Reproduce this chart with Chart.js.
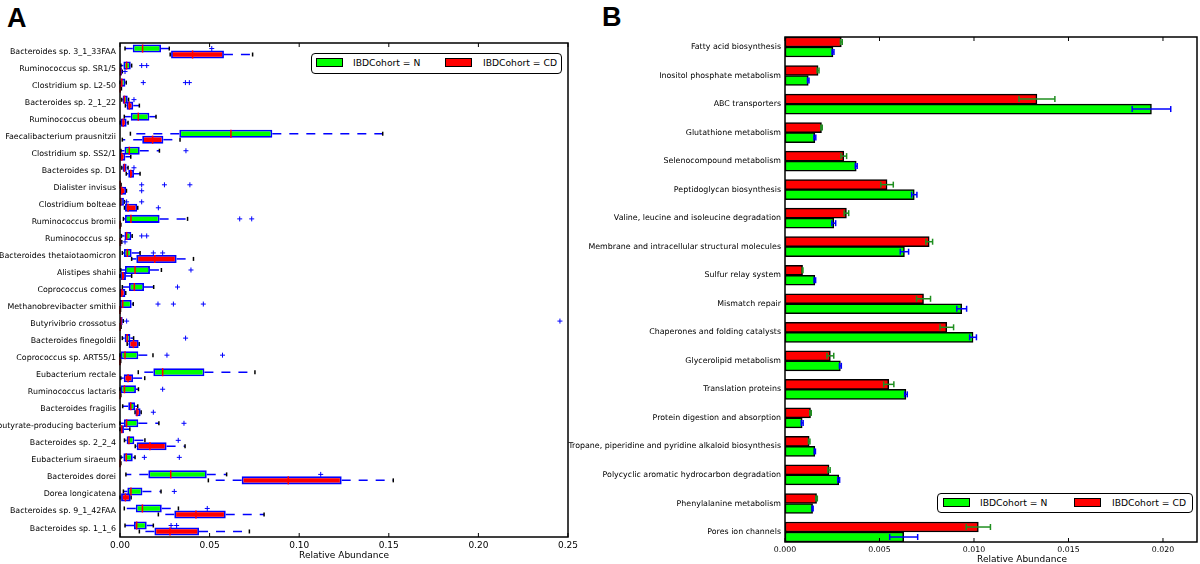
<!DOCTYPE html>
<html lang="en">

<head>
    <meta charset="UTF-8">
    <title>Relative abundance by IBD cohort</title>
    <script src="https://cdn.jsdelivr.net/npm/chart.js"></script>
    <style>
        body {
            margin: 0;
            width: 1200px;
            height: 564px;
            overflow: hidden;
            position: relative;
            background: #fff;
            font-family: "DejaVu Sans", sans-serif;
        }

        canvas {
            position: absolute;
            top: 0;
        }

        #chartA { left: 0; }
        #chartB { left: 560px; }

        .letter {
            position: absolute;
            font-family: "Liberation Sans", Arial, sans-serif;
            font-weight: bold;
            font-size: 27px;
            line-height: 27px;
        }

        .legend {
            position: absolute;
            box-sizing: border-box;
            border: 1.5px solid #000;
            border-radius: 4px;
            background: #fff;
        }

        .legend .sw {
            position: absolute;
            top: 4px;
            width: 27px;
            height: 9px;
            box-sizing: border-box;
            border: 1px solid #000;
        }

        .legend .lt {
            position: absolute;
            top: 3px;
            font-size: 9.2px;
            line-height: 12px;
            white-space: nowrap;
        }

        #titleB {
            position: absolute;
            left: 1022px;
            top: 554px;
            transform: translateX(-50%);
            font-size: 9px;
            line-height: 11px;
            white-space: nowrap;
        }
    </style>
</head>

<body>
    <div class="letter" style="left:7px; top:5px;">A</div>
    <div class="letter" style="left:602px; top:4px;">B</div>

    <canvas id="chartA" width="590" height="564"></canvas>
    <canvas id="chartB" width="640" height="564"></canvas>

    <div class="legend" style="left:311px; top:53px; width:251px; height:21px;">
        <span class="sw" style="left:4px; background:#00ff00;"></span>
        <span class="lt" style="left:41px;">IBDCohort = N</span>
        <span class="sw" style="left:133px; background:#ff0000;"></span>
        <span class="lt" style="left:171px;">IBDCohort = CD</span>
    </div>
    <div class="legend" style="left:937px; top:493px; width:256px; height:20px;">
        <span class="sw" style="left:5px; background:#00ff00;"></span>
        <span class="lt" style="left:42px;">IBDCohort = N</span>
        <span class="sw" style="left:136px; background:#ff0000;"></span>
        <span class="lt" style="left:174px;">IBDCohort = CD</span>
    </div>
    <div id="titleB">Relative Abundance</div>

    <script>
        // ---- Panel A: species box plots ----
        const species = [
            'Bacteroides sp. 3_1_33FAA', 'Ruminococcus sp. SR1/5', 'Clostridium sp. L2-50',
            'Bacteroides sp. 2_1_22', 'Ruminococcus obeum', 'Faecalibacterium prausnitzii',
            'Clostridium sp. SS2/1', 'Bacteroides sp. D1', 'Dialister invisus', 'Clostridium bolteae',
            'Ruminococcus bromii', 'Ruminococcus sp.', 'Bacteroides thetaiotaomicron', 'Alistipes shahii',
            'Coprococcus comes', 'Methanobrevibacter smithii', 'Butyrivibrio crossotus',
            'Bacteroides finegoldii', 'Coprococcus sp. ART55/1', 'Eubacterium rectale',
            'Ruminococcus lactaris', 'Bacteroides fragilis', 'butyrate-producing bacterium',
            'Bacteroides sp. 2_2_4', 'Eubacterium siraeum', 'Bacteroides dorei', 'Dorea longicatena',
            'Bacteroides sp. 9_1_42FAA', 'Bacteroides sp. 1_1_6'
        ];

        // IBDCohort = N
        const nLow = [0.0028, 0.0005, 0, 0.001, 0.0024, 0.0058, 0.0005, 0.001, 0, 0, 0.0019, 0.0008, 0.0013, 0.0004, 0.0013, 0, 0, 0.0013, 0, 0.0102, 0, 0.0015, 0, 0.0025, 0.0005, 0.0033, 0.0019, 0.0024, 0.0028];
        const nQ1 = [0.0071, 0.0019, 0.0004, 0.0015, 0.006, 0.0331, 0.0025, 0.0015, 0, 0, 0.0028, 0.0025, 0.0022, 0.0028, 0.005, 0, 0, 0.0026, 0.0004, 0.0186, 0.0004, 0.0046, 0.0022, 0.0037, 0.0019, 0.0158, 0.0041, 0.0088, 0.0078];
        const nMed = [0.0126, 0.0037, 0.001, 0.0025, 0.0102, 0.0619, 0.0052, 0.0025, 0.0001, 0.0004, 0.0061, 0.0037, 0.0041, 0.0084, 0.008, 0.0015, 0.0005, 0.004, 0.0028, 0.0238, 0.0025, 0.006, 0.0037, 0.005, 0.0035, 0.0283, 0.0061, 0.0125, 0.0093];
        const nQ3 = [0.0229, 0.006, 0.003, 0.0043, 0.0164, 0.085, 0.011, 0.0037, 0.0004, 0.0022, 0.0221, 0.0063, 0.0065, 0.0167, 0.0134, 0.0065, 0.0015, 0.0058, 0.0102, 0.0471, 0.0089, 0.0084, 0.0102, 0.008, 0.0071, 0.0484, 0.0125, 0.0233, 0.0149];
        const nHigh = [0.0275, 0.0065, 0.0035, 0.0048, 0.0201, 0.1466, 0.022, 0.0045, 0.0006, 0.0025, 0.0377, 0.0068, 0.0112, 0.0231, 0.0188, 0.0074, 0.0018, 0.0076, 0.0184, 0.0753, 0.0103, 0.0099, 0.0217, 0.0139, 0.0084, 0.0595, 0.0229, 0.0326, 0.0186];
        const nOut = [[0.0512], [0.0121, 0.0149], [0.013, 0.0365, 0.0387], [0.0078], [], [], [0.0368], [0.0078],
            [0.0121, 0.0248, 0.039], [0.0037, 0.0121], [0.0668, 0.0735], [0.0121, 0.0149], [0.0186, 0.0238],
            [0.0396], [0.0321], [0.0212, 0.0298, 0.0465], [0.0037, 0.2455], [0.0366], [0.0262, 0.0572], [],
            [0.0238], [], [0.0357], [0.0325], [0.0136, 0.0331], [0.112], [0.0303], [0.0487], [0.0285, 0.0316]];

        // IBDCohort = CD
        const cdLow = [0.028, 0, 0, 0.003, 0.0002, 0.0013, 0, 0.0035, 0, 0.0025, 0, 0, 0.0065, 0, 0, 0, 0, 0.004, 0, 0.0004, 0, 0.0084, 0, 0.0085, 0, 0.0493, 0, 0.0214, 0.0108];
        const cdQ1 = [0.0285, 0, 0, 0.0037, 0.0004, 0.0124, 0, 0.0046, 0, 0.0028, 0, 0, 0.0091, 0.0006, 0, 0, 0, 0.0048, 0, 0.0021, 0, 0.0086, 0.0004, 0.0093, 0, 0.0679, 0.0006, 0.0303, 0.0192];
        const cdMed = [0.0405, 0.0003, 0.0001, 0.0052, 0.0018, 0.0182, 0.001, 0.006, 0.001, 0.0045, 0.0001, 0.0002, 0.0194, 0.0015, 0.001, 0, 0.0001, 0.0075, 0, 0.0045, 0.0001, 0.0095, 0.001, 0.0167, 0.0001, 0.0939, 0.003, 0.0424, 0.0279];
        const cdQ3 = [0.058, 0.0011, 0.0006, 0.0074, 0.0037, 0.0242, 0.003, 0.0078, 0.0034, 0.0096, 0.0004, 0.0008, 0.0316, 0.0033, 0.003, 0.0002, 0.0005, 0.0104, 0.0003, 0.0073, 0.0004, 0.0115, 0.0022, 0.026, 0.0004, 0.1237, 0.006, 0.059, 0.0441];
        const cdHigh = [0.074, 0.0013, 0.0008, 0.0108, 0.0045, 0.0335, 0.006, 0.0112, 0.0036, 0.0099, 0.0005, 0.001, 0.041, 0.0065, 0.0032, 0.0003, 0.0006, 0.0107, 0.0004, 0.0138, 0.0005, 0.0118, 0.0055, 0.0363, 0.0005, 0.1525, 0.0062, 0.0804, 0.0722];
        const cdOut = [[], [0.0028], [], [], [], [], [], [], [0.0121], [0.0214], [], [0.0028], [], [], [], [], [], [], [], [], [], [0.0186], [], [], [], [], [], [], []];

        const ticksA = [0, 0.05, 0.1, 0.15, 0.2, 0.25];

        // ---- Panel B: pathway means with error bars ----
        const pathways = [
            'Fatty acid biosynthesis', 'Inositol phosphate metabolism', 'ABC transporters',
            'Glutathione metabolism', 'Selenocompound metabolism', 'Peptidoglycan biosynthesis',
            'Valine, leucine and isoleucine degradation', 'Membrane and intracellular structural molecules',
            'Sulfur relay system', 'Mismatch repair', 'Chaperones and folding catalysts',
            'Glycerolipid metabolism', 'Translation proteins', 'Protein digestion and absorption',
            'Tropane, piperidine and pyridine alkaloid biosynthesis',
            'Polycyclic aromatic hydrocarbon degradation', 'Phenylalanine metabolism', 'Pores ion channels'
        ];
        const cdMean = [0.00298, 0.00175, 0.01333, 0.00193, 0.00311, 0.0054, 0.00325, 0.00763, 0.00093, 0.00733, 0.00856, 0.0024, 0.00549, 0.00135, 0.00128, 0.00233, 0.00167, 0.01023];
        const cdErr = [0.00005, 0.00005, 0.00095, 0.00004, 0.00015, 0.00033, 0.00012, 0.00018, 0.00002, 0.00037, 0.00036, 0.00018, 0.00027, 0.00004, 0.00004, 0.00006, 0.00004, 0.00064];
        const nMean = [0.00254, 0.00123, 0.01939, 0.00158, 0.00377, 0.00684, 0.00258, 0.00632, 0.00158, 0.00935, 0.00995, 0.00293, 0.0064, 0.00091, 0.00158, 0.00284, 0.00146, 0.00628];
        const nErr = [0.00005, 0.00004, 0.00102, 0.00005, 0.00005, 0.00014, 0.0001, 0.00022, 0.00004, 0.00026, 0.00018, 0.00005, 0.00007, 0.00005, 0.00003, 0.00005, 0.00003, 0.00074];

        const ticksB = [0, 0.005, 0.01, 0.015, 0.02];

        Chart.defaults.font.family = '"DejaVu Sans", sans-serif';
        Chart.defaults.color = '#000';

        function seg(ctx, x1, y1, x2, y2) {
            ctx.beginPath();
            ctx.moveTo(x1, y1);
            ctx.lineTo(x2, y2);
            ctx.stroke();
        }

        // frame round the plot area plus inward ticks on the x axis
        function framePlugin(tickValues) {
            return {
                id: 'frame',
                afterDraw(chart) {
                    const { ctx, chartArea: a } = chart;
                    const x = chart.scales.x;
                    ctx.save();
                    ctx.strokeStyle = '#000';
                    ctx.lineWidth = 1;
                    tickValues.forEach(v => {
                        const px = x.getPixelForValue(v);
                        seg(ctx, px, a.bottom, px, a.bottom - 4);
                        seg(ctx, px, a.top, px, a.top + 4);
                    });
                    ctx.lineWidth = 1.5;
                    ctx.strokeRect(a.left, a.top, a.right - a.left, a.bottom - a.top);
                    ctx.restore();
                }
            };
        }

        const groupsA = [
            { low: nLow, med: nMed, high: nHigh, q1: nQ1, q3: nQ3, out: nOut },
            { low: cdLow, med: cdMed, high: cdHigh, q1: cdQ1, q3: cdQ3, out: cdOut }
        ];

        // whiskers and caps under the boxes, medians and outliers on top
        const boxWhiskerPlugin = {
            id: 'boxWhisker',
            beforeDatasetsDraw(chart) {
                const ctx = chart.ctx;
                const x = chart.scales.x;
                ctx.save();
                groupsA.forEach((g, d) => {
                    chart.getDatasetMeta(d).data.forEach((bar, i) => {
                        const y = bar.y;
                        const pq1 = x.getPixelForValue(g.q1[i]);
                        const pq3 = x.getPixelForValue(g.q3[i]);
                        const plo = x.getPixelForValue(g.low[i]);
                        const phi = x.getPixelForValue(g.high[i]);
                        ctx.strokeStyle = '#0000ff';
                        ctx.lineWidth = 1.5;
                        ctx.setLineDash([9, 8]);
                        if (plo < pq1) seg(ctx, pq1, y, plo, y);
                        if (phi > pq3) seg(ctx, pq3, y, phi, y);
                        ctx.setLineDash([]);
                        ctx.strokeStyle = '#000';
                        if (plo < pq1) seg(ctx, plo, y - 2, plo, y + 2);
                        if (phi > pq3) seg(ctx, phi, y - 2, phi, y + 2);
                    });
                });
                ctx.restore();
            },
            afterDatasetsDraw(chart) {
                const ctx = chart.ctx;
                const x = chart.scales.x;
                ctx.save();
                groupsA.forEach((g, d) => {
                    chart.getDatasetMeta(d).data.forEach((bar, i) => {
                        const y = bar.y;
                        const h = bar.height / 2;
                        const pm = x.getPixelForValue(g.med[i]);
                        ctx.strokeStyle = '#ff0000';
                        ctx.lineWidth = 1.5;
                        seg(ctx, pm, y - h, pm, y + h);
                        ctx.strokeStyle = '#0000ff';
                        ctx.lineWidth = 1;
                        g.out[i].forEach(v => {
                            const px = x.getPixelForValue(v);
                            seg(ctx, px - 2.5, y, px + 2.5, y);
                            seg(ctx, px, y - 2.5, px, y + 2.5);
                        });
                    });
                });
                ctx.restore();
            }
        };

        new Chart(document.getElementById('chartA'), {
            type: 'bar',
            data: {
                labels: species,
                datasets: [{
                    label: 'IBDCohort = N',
                    data: species.map((s, i) => [nQ1[i], nQ3[i]]),
                    backgroundColor: '#00ff00',
                    borderColor: '#0000ff',
                    borderWidth: 1.8,
                    borderSkipped: false,
                    categoryPercentage: 0.7,
                    barPercentage: 1.35
                }, {
                    label: 'IBDCohort = CD',
                    data: species.map((s, i) => [cdQ1[i], cdQ3[i]]),
                    backgroundColor: '#ff0000',
                    borderColor: '#0000ff',
                    borderWidth: 1.8,
                    borderSkipped: false,
                    categoryPercentage: 0.7,
                    barPercentage: 1.35
                }]
            },
            options: {
                indexAxis: 'y',
                responsive: false,
                animation: false,
                layout: { padding: { top: 43, right: 22, left: 0, bottom: 0 } },
                plugins: {
                    legend: { display: false },
                    tooltip: { enabled: false }
                },
                scales: {
                    x: {
                        min: 0,
                        max: 0.25,
                        grid: { display: false, drawTicks: false },
                        border: { display: false },
                        ticks: {
                            stepSize: 0.05,
                            padding: 3,
                            font: { size: 9 },
                            callback: v => v.toFixed(2)
                        },
                        title: {
                            display: true,
                            text: 'Relative Abundance',
                            font: { size: 9 },
                            padding: { top: 0, bottom: 3 }
                        },
                        afterFit: s => { s.height = 27; }
                    },
                    y: {
                        grid: { display: false, drawTicks: false },
                        border: { display: false },
                        ticks: { autoSkip: false, padding: 4, font: { size: 7.9 } },
                        afterFit: s => { s.width = 120; }
                    }
                }
            },
            plugins: [boxWhiskerPlugin, framePlugin(ticksA)]
        });

        const errorBarPlugin = {
            id: 'errorBars',
            afterDatasetsDraw(chart) {
                const ctx = chart.ctx;
                const x = chart.scales.x;
                const sets = [
                    { mean: cdMean, err: cdErr, color: '#1f8f1f' },
                    { mean: nMean, err: nErr, color: '#0000ff' }
                ];
                ctx.save();
                ctx.lineWidth = 1.5;
                sets.forEach((s, d) => {
                    ctx.strokeStyle = s.color;
                    chart.getDatasetMeta(d).data.forEach((bar, i) => {
                        const y = bar.y;
                        const x1 = x.getPixelForValue(s.mean[i] - s.err[i]);
                        const x2 = x.getPixelForValue(s.mean[i] + s.err[i]);
                        seg(ctx, x1, y, x2, y);
                        seg(ctx, x1, y - 3, x1, y + 3);
                        seg(ctx, x2, y - 3, x2, y + 3);
                    });
                });
                ctx.restore();
            }
        };

        new Chart(document.getElementById('chartB'), {
            type: 'bar',
            data: {
                datasets: [{
                    label: 'IBDCohort = CD',
                    data: pathways.map((p, i) => ({ x: cdMean[i], y: i })),
                    backgroundColor: '#ff0000',
                    borderColor: '#000',
                    borderWidth: 1.5,
                    borderSkipped: false,
                    barThickness: 10
                }, {
                    label: 'IBDCohort = N',
                    data: pathways.map((p, i) => ({ x: nMean[i], y: i })),
                    backgroundColor: '#00ff00',
                    borderColor: '#000',
                    borderWidth: 1.5,
                    borderSkipped: false,
                    barThickness: 10
                }]
            },
            options: {
                indexAxis: 'y',
                responsive: false,
                animation: false,
                layout: { padding: { top: 37, right: 3, left: 0, bottom: 0 } },
                plugins: {
                    legend: { display: false },
                    tooltip: { enabled: false }
                },
                scales: {
                    x: {
                        type: 'linear',
                        min: 0,
                        max: 0.0218,
                        grid: { display: false, drawTicks: false },
                        border: { display: false },
                        ticks: {
                            stepSize: 0.005,
                            includeBounds: false,
                            padding: 3,
                            font: { size: 7.8 },
                            callback: v => v.toFixed(3)
                        },
                        afterFit: s => { s.height = 22; }
                    },
                    y: {
                        type: 'linear',
                        reverse: true,
                        offset: false,
                        min: -0.35,
                        max: 17.35,
                        grid: { display: false, drawTicks: false },
                        border: { display: false },
                        ticks: {
                            stepSize: 1,
                            includeBounds: false,
                            autoSkip: false,
                            padding: 4,
                            font: { size: 7.9 },
                            callback: v => pathways[v]
                        },
                        afterFit: s => { s.width = 225; }
                    }
                }
            },
            plugins: [errorBarPlugin, framePlugin(ticksB)]
        });
    </script>
</body>

</html>
